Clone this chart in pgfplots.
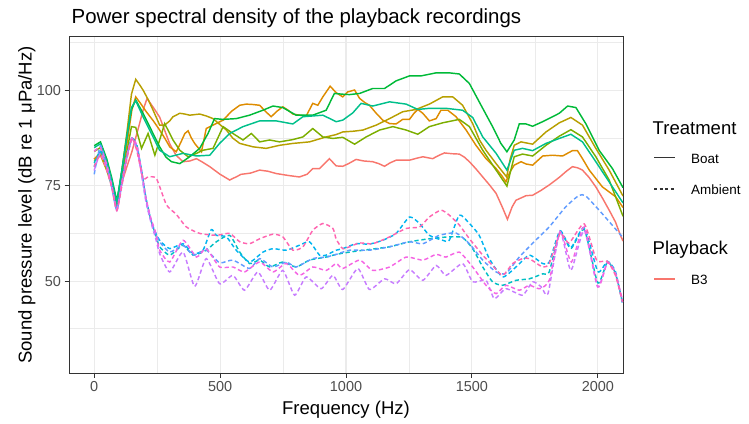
\documentclass[border=0pt]{standalone}
\usepackage{fontspec}
\setmainfont{Liberation Sans}
\usepackage{pgfplots}
\pgfplotsset{compat=1.18}

\definecolor{gridc}{HTML}{EBEBEB}
\definecolor{gray20}{HTML}{333333}
\definecolor{gray30}{HTML}{4D4D4D}
\definecolor{cA}{HTML}{F8766D}
\definecolor{cB}{HTML}{DE8C00}
\definecolor{cC}{HTML}{B79F00}
\definecolor{cD}{HTML}{7CAE00}
\definecolor{cE}{HTML}{00BA38}
\definecolor{cF}{HTML}{00C08B}
\definecolor{cG}{HTML}{00BFC4}
\definecolor{cH}{HTML}{00B4F0}
\definecolor{cI}{HTML}{619CFF}
\definecolor{cJ}{HTML}{C77CFF}
\definecolor{cK}{HTML}{F564E3}
\definecolor{cL}{HTML}{FF64B0}

\begin{document}
\begin{tikzpicture}[x=1bp,y=1bp]
\useasboundingbox (0,0) rectangle (749,423);
\begin{axis}[
    at={(69bp,50bp)}, anchor=south west,
    scale only axis,
    width=554bp, height=336bp,
    xmin=-100, xmax=2100,
    ymin=25.9, ymax=114,
    xtick={0,500,1000,1500,2000},
    ytick={50,75,100},
    minor xtick={250,750,1250,1750},
    minor ytick={37.5,62.5,87.5,112.5},
    grid=both,
    major grid style={color=gridc, line width=1.1bp},
    minor grid style={color=gridc, line width=0.55bp},
    axis line style={color=gray20, line width=1bp},
    tick align=outside, tick pos=left,
    major tick length=4.5bp, minor tick length=0pt,
    tick style={color=gray20, line width=1bp},
    ticklabel style={font=\fontsize{14.5}{15}\selectfont, text=gray30},
    /pgf/number format/assume math mode=true,
    /pgf/number format/1000 sep={},
    every axis plot/.append style={line width=1.45bp},
    solid line/.style={solid},
    dash line/.style={dash pattern=on 4.2bp off 2.8bp, smooth, tension=0.35},
]

% Boat recordings (solid)
\addplot[cA, solid line] coordinates {
(0,82) (25,83.5) (50,80) (70,76) (90,70.5) (110,76) (130,80) (150,84) (177,90.5) (195,95) (210,97.9) (235,95.5) (260,93) (280,89.5) (300,86) (325,83) (353,81.3) (380,81.5) (406,82.1) (430,81.2) (459,80) (500,78) (538,76.5) (560,77.2) (584,78.0) (620,78.3) (657,79.1) (690,78.8) (723,78.2) (770,77.7) (815,77.3) (845,78) (868,79.5) (895,79.5) (915,80.8) (934,82.1) (961,80.2) (987,80.1) (1010,80.8) (1040,81.9) (1070,81.5) (1106,81.3) (1130,80.8) (1153,80.1) (1175,81) (1199,81.7) (1252,81.7) (1280,82.2) (1305,82.6) (1344,82.1) (1370,83) (1391,83.6) (1420,83.4) (1450,83.3) (1470,82.5) (1490,81.3) (1515,79.5) (1543,77.3) (1570,75.2) (1596,73.0) (1620,69.5) (1641,66.2) (1660,69.5) (1675,71.2) (1715,72.4) (1741,72.5) (1775,73.8) (1807,75.2) (1847,77.2) (1875,78.8) (1899,80.0) (1920,79.7) (1939,79.1) (1965,77.2) (1992,74.7) (2018,71.8) (2045,68.6) (2070,65.5) (2091,61.8) (2100,60.5)
};
\addplot[cB, solid line] coordinates {
(0,82) (25,83.5) (50,79.5) (70,75.5) (90,70) (110,78) (130,86) (150,95) (165,98.3) (185,96.5) (207,94.4) (235,92) (260,89.6) (280,87.5) (300,85.2) (326,83.9) (345,86.5) (360,88.7) (373,89.4) (386,87.5) (399,86.1) (426,83.9) (445,90) (472,90.9) (512,92.2) (545,94.5) (578,96.1) (604,96.4) (630,96.3) (657,96.1) (680,94.5) (703,93.1) (725,94.5) (749,95.7) (770,94.8) (789,93.8) (815,93.5) (842,93.3) (868,96.6) (888,96.1) (908,98.3) (937,101.1) (961,99.4) (987,98.3) (1007,99.6) (1034,100.1) (1054,97.9) (1075,96.8) (1093,96.1) (1120,94) (1146,92.2) (1173,91.3) (1199,91.2) (1225,92.4) (1252,92.4) (1270,94) (1285,95.0) (1305,94.0) (1331,92.0) (1358,92.6) (1377,94.8) (1404,94.8) (1437,93.1) (1477,89.6) (1516,85.6) (1556,82.1) (1596,79.5) (1620,77.5) (1635,76) (1650,78.5) (1668,80.4) (1695,81.3) (1715,80.7) (1741,80.4) (1781,82.8) (1820,83.0) (1860,82.8) (1899,84.2) (1919,84.2) (1940,82) (1966,79.1) (2018,74.7) (2071,72.1) (2100,69.3)
};
\addplot[cC, solid line] coordinates {
(0,81.5) (25,83) (50,79) (70,75) (90,70) (110,79) (130,89) (148,99) (165,102.9) (180,101.5) (194,100.1) (215,97.5) (234,94.8) (260,90.9) (280,90.9) (300,92) (313,93.1) (340,94.0) (360,93.8) (379,93.5) (419,93.8) (445,93.3) (472,92.6) (500,91) (525,89.6) (550,87.5) (578,86.1) (631,85.2) (683,84.8) (736,85.6) (789,86.1) (855,86.5) (921,87.8) (960,88.4) (987,89.1) (1030,89.3) (1067,89.6) (1120,90.9) (1173,92.6) (1225,94.4) (1278,95.0) (1331,96.4) (1384,98.3) (1424,98.3) (1463,96.1) (1503,91.3) (1530,87) (1556,84.3) (1596,80.8) (1638,77.3) (1652,82) (1668,85.6) (1695,86.5) (1741,85.9) (1794,89.1) (1847,91.5) (1893,92.9) (1939,90.9) (1992,84.8) (2045,79.1) (2100,72.3)
};
\addplot[cD, solid line] coordinates {
(0,84) (25,85) (50,81) (70,76) (90,70.5) (110,78) (130,84) (148,90.5) (165,90.3) (188,84.8) (214,88.7) (241,83.0) (260,87) (280,91.3) (313,87.0) (340,84.3) (373,82.6) (400,83.3) (432,84.3) (472,84.8) (512,90.5) (551,88.7) (591,87.0) (624,88.7) (657,86.5) (697,87.0) (736,86.5) (789,87.1) (829,87.8) (868,90.0) (908,87.8) (948,87.4) (987,87.7) (1034,85.9) (1080,87.8) (1133,89.6) (1186,90.5) (1239,89.6) (1285,88.5) (1331,90.5) (1384,91.5) (1450,92.4) (1490,90.5) (1543,84.3) (1596,79.1) (1639,74.9) (1668,82.6) (1701,83.3) (1741,82.8) (1794,85.6) (1847,88.0) (1893,89.7) (1939,87.8) (1992,82.6) (2045,76.5) (2100,67)
};
\addplot[cE, solid line] coordinates {
(0,85.5) (25,86.5) (50,82) (70,77) (90,71) (110,79) (130,88) (148,95) (165,97.5) (194,94.0) (227,89.6) (260,85.2) (285,82.5) (307,81.3) (340,80.8) (379,82.6) (419,84.8) (452,88.7) (478,92.6) (512,92.4) (564,92.6) (617,93.5) (670,94.8) (710,95.9) (749,95.5) (802,93.5) (868,93.5) (921,94.8) (954,99.2) (987,99.0) (1014,98.9) (1054,99.2) (1106,100.5) (1153,100.5) (1199,102.5) (1252,103.8) (1298,103.8) (1358,104.6) (1410,104.6) (1450,104.3) (1490,101.8) (1529,97.0) (1582,90.5) (1615,86.1) (1639,83.9) (1668,87.0) (1688,91.2) (1715,91.2) (1741,90.6) (1781,91.8) (1820,93.1) (1847,94.0) (1880,95.9) (1913,95.5) (1952,91.3) (2005,84.3) (2058,79.5) (2100,74.5)
};
\addplot[cF, solid line] coordinates {
(0,85) (25,86) (50,81.5) (70,76.5) (90,70.5) (110,79) (130,88) (148,95.5) (165,97.3) (194,93.1) (227,88.7) (260,84.3) (300,82.6) (353,83.5) (406,82.8) (459,83.0) (498,86.1) (538,88.7) (591,90.5) (657,92.0) (723,92.0) (789,91.2) (829,93.1) (908,93.5) (961,91.8) (987,92.2) (1027,94.1) (1060,96.6) (1106,95.9) (1173,97.0) (1239,96.4) (1285,95.0) (1331,95.3) (1397,95.3) (1463,94.8) (1503,92.9) (1543,87.8) (1596,83.5) (1639,79.1) (1668,84.3) (1701,84.8) (1741,84.2) (1794,86.1) (1847,87.4) (1893,88.5) (1939,86.5) (1992,81.3) (2045,76.0) (2100,70.5)
};

% Ambient recordings (dashed)
\addplot[cG, dash line] coordinates {
(0,81) (25,84) (50,80) (70,75) (90,69) (110,76) (130,83) (150,87.5) (170,85.5) (188,79) (205,72) (225,66) (245,62) (260,59.0) (300,56.8) (353,59.4) (393,56.8) (445,58.1) (485,60.3) (538,62.0) (578,57.6) (617,54.6) (657,55.5) (697,53.7) (749,55.0) (802,53.7) (855,55.5) (921,56.3) (961,57.0) (1014,57.6) (1093,58.3) (1173,59.0) (1252,60.3) (1331,61.1) (1410,61.6) (1463,61.4) (1503,58.5) (1543,53.7) (1582,49.8) (1622,48.9) (1675,50.2) (1728,50.6) (1781,51.9) (1807,52.4) (1850,62.8) (1893,58.5) (1946,63.5) (2000,49.5) (2038,55) (2070,52) (2098,44.5)
};
\addplot[cH, dash line] coordinates {
(0,80) (25,84) (50,80) (70,75) (90,69) (110,76) (130,83) (150,87.5) (170,85) (188,79) (210,70) (234,64.2) (260,60.7) (300,58.5) (353,59.8) (393,57.2) (432,58.1) (465,63.5) (485,62.0) (525,61.6) (564,58.1) (617,55.0) (670,57.6) (710,58.5) (763,58.1) (815,59.4) (855,60.3) (895,56.8) (921,56.8) (961,58.1) (987,58.5) (1040,59.8) (1093,59.7) (1146,60.7) (1199,62.5) (1252,66.8) (1292,65.1) (1331,62.0) (1384,60.7) (1410,60.7) (1450,67.3) (1490,65.1) (1529,62.0) (1569,55.9) (1622,51.1) (1675,53.7) (1728,56.8) (1781,54.6) (1807,55.0) (1850,63.2) (1893,58.8) (1946,64.0) (2000,52.5) (2038,55.2) (2070,52.5) (2098,44)
};
\addplot[cI, dash line] coordinates {
(0,78) (25,85.5) (50,80) (70,74.5) (90,68.5) (110,75.5) (130,82.5) (150,87.5) (170,85) (188,78.5) (205,71.5) (225,66) (245,62.5) (260,60.3) (300,57.6) (353,59.4) (393,56.8) (445,58.1) (498,54.8) (551,55.5) (617,53.3) (657,55.9) (710,53.7) (763,55.0) (802,53.7) (868,55.9) (921,56.3) (961,57.0) (1014,58.1) (1093,58.1) (1173,59.0) (1252,60.3) (1305,59.8) (1371,62.0) (1437,62.6) (1490,59.8) (1543,55.5) (1596,52.4) (1635,52.0) (1688,56.3) (1750,60.5) (1807,64.2) (1873,69.5) (1926,72.5) (1952,72.3) (2005,68.6) (2058,64.6) (2100,61.4)
};
\addplot[cJ, dash line] coordinates {
(0,79) (25,83.5) (50,79.5) (70,74.5) (90,68.5) (110,75.5) (130,82.5) (150,87) (170,84.5) (188,78) (205,71) (225,65.5) (245,61) (260,57.2) (300,52.4) (353,57.6) (399,48.6) (445,55.9) (498,49.3) (551,51.5) (597,47.6) (650,52.4) (697,47.6) (749,52.8) (796,46.3) (842,51.1) (901,48.0) (948,51.5) (987,47.8) (1047,53.3) (1093,47.8) (1153,50.6) (1199,49.3) (1252,53.0) (1305,50.2) (1358,54.1) (1397,51.5) (1463,54.6) (1503,49.8) (1556,50.2) (1589,45.4) (1635,48.0) (1701,46.3) (1741,49.8) (1775,48.5) (1802,46.7) (1850,62.9) (1893,52.8) (1946,63.3) (1999,48.5) (2038,55.0) (2070,52) (2098,44.5)
};
\addplot[cK, dash line] coordinates {
(0,84) (25,85) (50,80.5) (70,75) (90,69) (110,76) (130,83) (150,87.5) (170,85.5) (188,79) (205,72) (225,66.5) (245,62.5) (260,58.1) (300,55.0) (353,60.7) (406,56.3) (445,58.5) (498,53.7) (551,53.7) (597,52.4) (657,55.0) (710,52.4) (763,54.6) (815,51.5) (868,53.7) (921,52.8) (961,54.6) (987,53.3) (1054,55.5) (1106,52.8) (1173,53.7) (1239,56.3) (1305,55.5) (1358,57.0) (1397,56.3) (1450,57.6) (1503,53.7) (1556,48.9) (1596,46.7) (1635,48.9) (1688,47.6) (1728,48.9) (1768,48.0) (1807,50.2) (1850,63.0) (1895,55.0) (1946,64.2) (2000,48.5) (2038,54.8) (2070,52) (2098,45)
};
\addplot[cL, dash line] coordinates {
(0,80) (25,83) (50,79) (70,74.5) (90,68.5) (110,75) (130,82) (150,87.5) (170,84) (194,76.9) (214,77.3) (247,76.9) (287,70) (326,67.5) (366,64.2) (419,62.5) (485,62.0) (538,62.5) (578,60.3) (617,59.8) (657,61.1) (710,62.3) (749,61.6) (789,58.1) (829,59.0) (868,63.3) (908,65.1) (948,63.8) (961,61) (987,58.5) (1014,59.0) (1054,60.0) (1106,59.8) (1173,61.6) (1239,63.8) (1292,64.2) (1331,66.8) (1377,68.6) (1410,67.3) (1450,64.7) (1490,61.1) (1543,56.8) (1582,54.1) (1622,51.5) (1662,54.6) (1701,55.9) (1728,55.9) (1780,53.7) (1807,54.6) (1850,62.5) (1886,60) (1946,65.0) (1995,55.5) (2038,55.2) (2070,51.5) (2098,44.5)
};
\end{axis}

% titles
\node[anchor=base west, inner sep=0pt, font=\fontsize{20.5}{22}\selectfont] at (71.5,399) {Power spectral density of the playback recordings};
\node[anchor=base, inner sep=0pt, font=\fontsize{18.6}{20}\selectfont] at (346,9) {Frequency (Hz)};
\node[anchor=base, rotate=90, inner sep=0pt, font=\fontsize{18.6}{20}\selectfont] at (31.5,218) {Sound pressure level (dB re 1 μPa/Hz)};

% legend
\node[anchor=base west, inner sep=0pt, font=\fontsize{18.6}{20}\selectfont] at (652.5,289) {Treatment};
\draw[gray20, line width=1.4bp] (654,265.3) -- (675,265.3);
\node[anchor=base west, inner sep=0pt, font=\fontsize{13.5}{15}\selectfont] at (691,259.7) {Boat};
\draw[gray20, line width=1.1bp, dash pattern=on 3.2bp off 2.4bp] (654,234) -- (675,234);
\node[anchor=base west, inner sep=0pt, font=\fontsize{13.5}{15}\selectfont] at (691,228.7) {Ambient};
\node[anchor=base west, inner sep=0pt, font=\fontsize{18.6}{20}\selectfont] at (652.5,169) {Playback};
\draw[cA, line width=1.4bp] (654,144) -- (675,144);
\node[anchor=base west, inner sep=0pt, font=\fontsize{13.5}{15}\selectfont] at (691,138.7) {B3};
\end{tikzpicture}
\end{document}
